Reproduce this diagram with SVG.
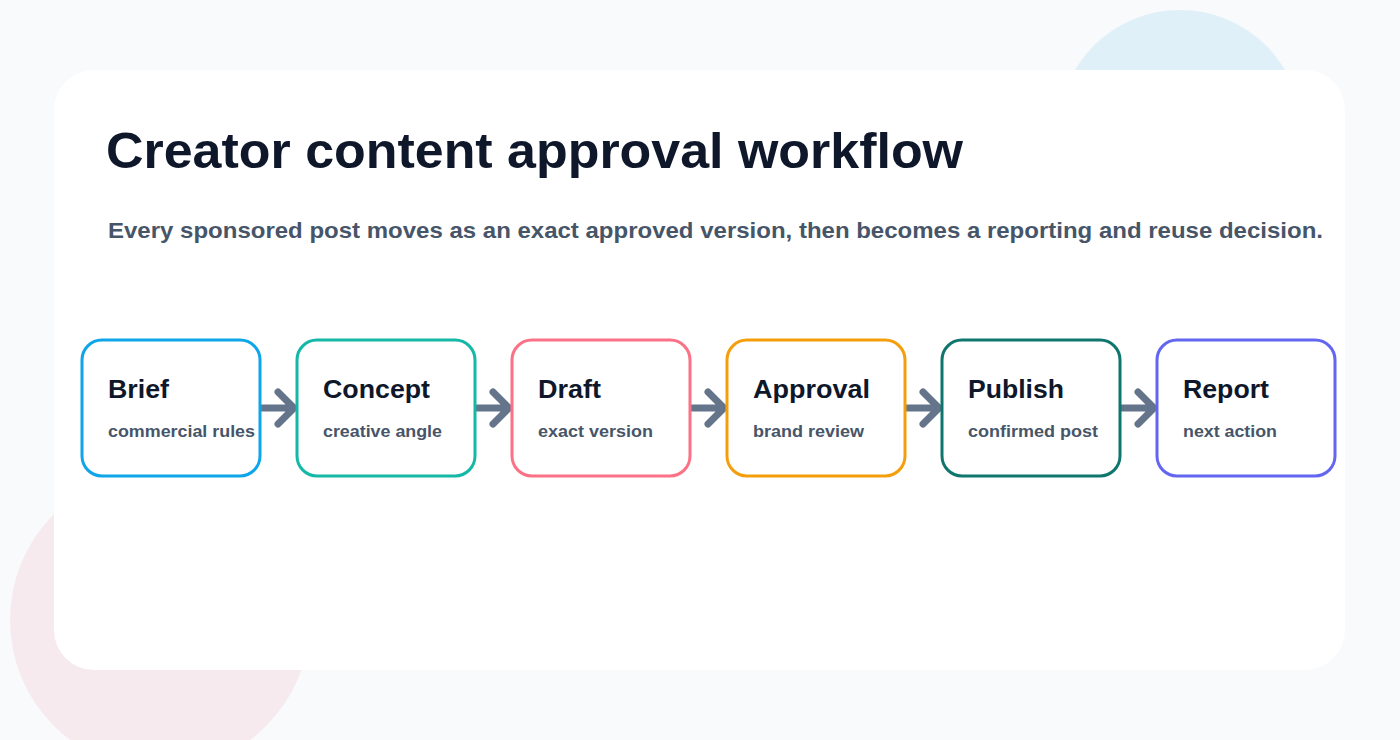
<svg xmlns="http://www.w3.org/2000/svg" width="1400" height="740" viewBox="0 0 1400 740">
<defs>
<style>
.node rect{fill:#ffffff;stroke-width:3}
.t{font-family:"Liberation Sans",Arial,sans-serif;font-weight:700;font-size:26px;fill:#0f172a}
.s{font-family:"Liberation Sans",Arial,sans-serif;font-weight:700;font-size:17px;fill:#475569}
.conn path{fill:none;stroke:#64748b;stroke-width:7;stroke-linecap:round;stroke-linejoin:round}
</style>
</defs>
<rect x="0" y="0" width="1400" height="740" fill="#f8fafc"/>
<circle cx="1180" cy="132" r="122" fill="#e0f0f8"/>
<circle cx="160" cy="620" r="150" fill="#f7eaee"/>
<rect x="54" y="70" width="1291" height="600" rx="40" fill="#ffffff"/>
<text x="106" y="168" font-family="Liberation Sans, Arial, sans-serif" font-weight="700" font-size="50" fill="#0f172a" textLength="857" lengthAdjust="spacingAndGlyphs">Creator content approval workflow</text>
<text x="108" y="238" font-family="Liberation Sans, Arial, sans-serif" font-weight="700" font-size="22" fill="#475569" textLength="1215" lengthAdjust="spacingAndGlyphs">Every sponsored post moves as an exact approved version, then becomes a reporting and reuse decision.</text>
<g class="conn">
<path d="M262 408H294M278 392L294 408L278 424"/>
<path d="M477 408H509M493 392L509 408L493 424"/>
<path d="M692 408H724M708 392L724 408L708 424"/>
<path d="M907 408H939M923 392L939 408L923 424"/>
<path d="M1122 408H1154M1138 392L1154 408L1138 424"/>
</g>
<g id="brief" class="node"><rect x="82" y="340" width="178" height="136" rx="20" stroke="#0ea5e9"/><text class="t" x="108" y="398" textLength="61" lengthAdjust="spacingAndGlyphs">Brief</text><text class="s" x="108" y="437" textLength="147" lengthAdjust="spacingAndGlyphs">commercial rules</text></g>
<g id="concept" class="node"><rect x="297" y="340" width="178" height="136" rx="20" stroke="#14b8a6"/><text class="t" x="323" y="398" textLength="107" lengthAdjust="spacingAndGlyphs">Concept</text><text class="s" x="323" y="437" textLength="119" lengthAdjust="spacingAndGlyphs">creative angle</text></g>
<g id="draft" class="node"><rect x="512" y="340" width="178" height="136" rx="20" stroke="#fb7185"/><text class="t" x="538" y="398" textLength="63" lengthAdjust="spacingAndGlyphs">Draft</text><text class="s" x="538" y="437" textLength="115" lengthAdjust="spacingAndGlyphs">exact version</text></g>
<g id="approval" class="node"><rect x="727" y="340" width="178" height="136" rx="20" stroke="#f59e0b"/><text class="t" x="753" y="398" textLength="117" lengthAdjust="spacingAndGlyphs">Approval</text><text class="s" x="753" y="437" textLength="111" lengthAdjust="spacingAndGlyphs">brand review</text></g>
<g id="publish" class="node"><rect x="942" y="340" width="178" height="136" rx="20" stroke="#0f766e"/><text class="t" x="968" y="398" textLength="96" lengthAdjust="spacingAndGlyphs">Publish</text><text class="s" x="968" y="437" textLength="130" lengthAdjust="spacingAndGlyphs">confirmed post</text></g>
<g id="report" class="node"><rect x="1157" y="340" width="178" height="136" rx="20" stroke="#6366f1"/><text class="t" x="1183" y="398" textLength="86" lengthAdjust="spacingAndGlyphs">Report</text><text class="s" x="1183" y="437" textLength="94" lengthAdjust="spacingAndGlyphs">next action</text></g>
</svg>
